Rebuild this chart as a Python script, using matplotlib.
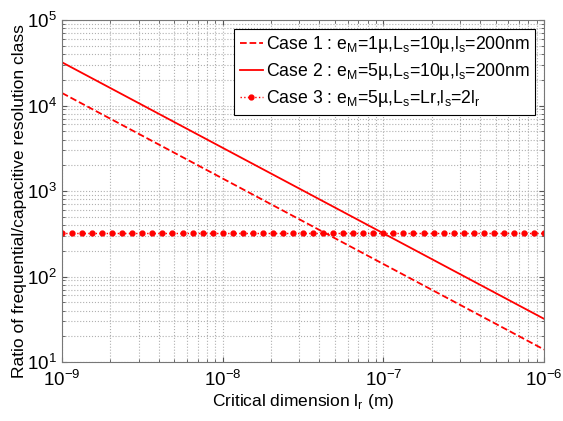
import numpy as np
import matplotlib.pyplot as plt

plt.rcParams['font.family'] = ['Liberation Sans', 'DejaVu Sans']
plt.rcParams['mathtext.fontset'] = 'custom'
plt.rcParams['mathtext.rm'] = 'Liberation Sans'

# line ends (straight in log-log)
x_line = [1e-9, 1e-6]
case1 = [1.4e4, 14]
case2 = [3.2e4, 32]
# case 3: constant ratio, sampled points
x_pts = np.logspace(-9, -6, 49)
case3 = [320] * len(x_pts)

labels = [r'Case 1 : e$_\mathregular{M}$=1µ,L$_\mathregular{s}$=10µ,l$_\mathregular{s}$=200nm',
          r'Case 2 : e$_\mathregular{M}$=5µ,L$_\mathregular{s}$=10µ,l$_\mathregular{s}$=200nm',
          r'Case 3 : e$_\mathregular{M}$=5µ,L$_\mathregular{s}$=Lr,l$_\mathregular{s}$=2l$_\mathregular{r}$']

fig = plt.figure(figsize=(5.63, 4.21), dpi=100)
ax = fig.add_axes([62/563, 1-362/421, (544-62)/563, (362-20)/421])

ax.plot(x_line, case1, '--', color='red', lw=1.3, label=labels[0])
ax.plot(x_line, case2, '-', color='red', lw=1.3, label=labels[1])
ax.plot(x_pts, case3, ':', color='red', marker='o', ms=3.5, lw=1, label=labels[2])

ax.set_xscale('log')
ax.set_yscale('log')
ax.set_xlim(1e-9, 1e-6)
ax.set_ylim(10, 1e5)
ax.grid(True, which='both', ls=':', color='#b0b0b0', lw=0.8)
ax.tick_params(which='both', direction='in', top=True, right=True, labelsize=13.5, colors='#555555', labelcolor='black')
ax.tick_params(axis='x', pad=6)
for s in ax.spines.values():
    s.set_color('#777777')
ax.set_xlabel(r'Critical dimension l$_\mathregular{r}$ (m)', fontsize=12.5, labelpad=1)
ax.set_ylabel('Ratio of frequential/capacitive resolution class', fontsize=12.5)
ax.yaxis.set_label_coords(-0.072, 0.47)

leg = ax.legend(loc='upper right', fontsize=12.7, fancybox=False, framealpha=1,
                edgecolor='black', handlelength=1.3, handletextpad=0.2,
                borderaxespad=0.5, labelspacing=0.35, borderpad=0.3)
leg.get_frame().set_linewidth(0.8)

fig.savefig('out.png', dpi=100)
